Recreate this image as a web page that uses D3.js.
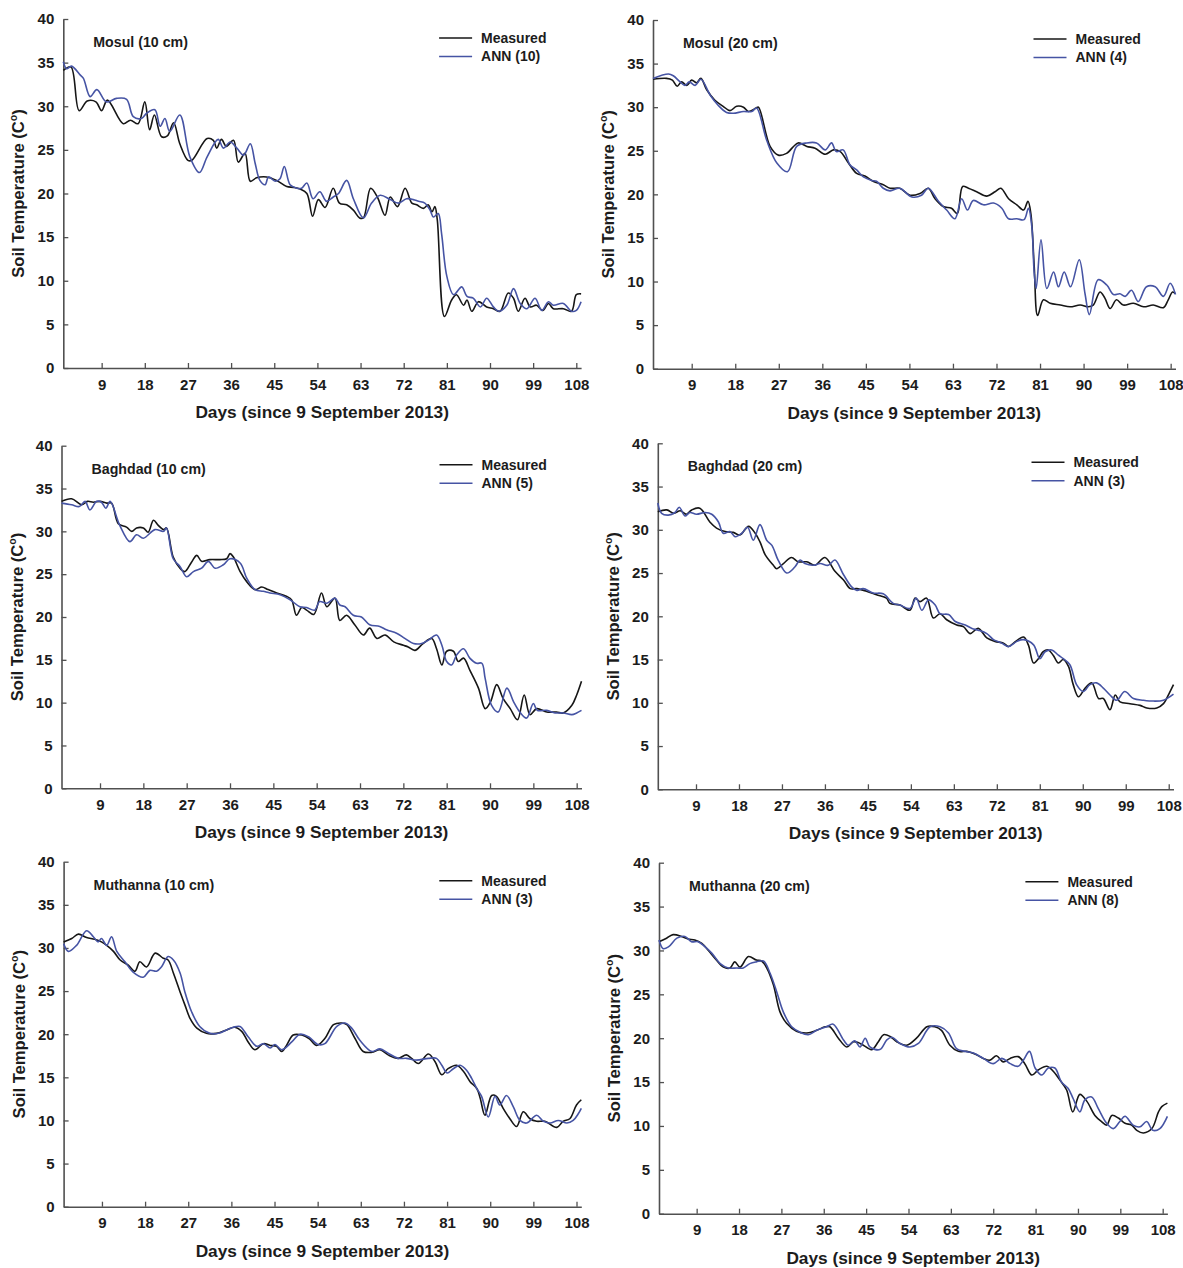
<!DOCTYPE html>
<html>
<head>
<meta charset="utf-8">
<script src="https://cdn.jsdelivr.net/npm/d3@7"></script>
<style>
  html, body { margin: 0; padding: 0; background: #fff; }
  svg text { font-family: "Liberation Sans", Arial, sans-serif; font-weight: bold; }
</style>
</head>
<body>
<svg id="chart" width="1183" height="1268"></svg>
<script>
// ---------------- DATA ----------------
const xTicks = [9, 18, 27, 36, 45, 54, 63, 72, 81, 90, 99, 108];
const yTicks = [0, 5, 10, 15, 20, 25, 30, 35, 40];
const panelTitles = ["Mosul (10 cm)", "Mosul (20 cm)", "Baghdad (10 cm)", "Baghdad (20 cm)", "Muthanna (10 cm)", "Muthanna (20 cm)"];
const annLabels = ["ANN (10)", "ANN (4)", "ANN (5)", "ANN (3)", "ANN (3)", "ANN (8)"];
const measuredLabel = "Measured";
const xTitle = "Days (since 9 September 2013)";

// [day, soil temperature °C]
const mosul10Measured = [[1,34.1],[2.6,34.5],[4.3,29.5],[6,30.6],[7.8,30.5],[9,29.5],[10.2,30.7],[13.5,28],[15,28.4],[16.6,28],[18,30.5],[19,27.3],[20,29],[21.5,26.5],[22.7,26.6],[24,28.1],[25.3,25.7],[27,23.8],[27.8,23.8],[31,26.3],[32.3,26.1],[33,25.2],[34,26.2],[35,25.4],[36.5,26.1],[37.5,23.6],[38.9,24.6],[40,21.4],[41.3,21.8],[43.4,21.9],[45.5,21.5],[47.6,20.8],[49,20.7],[50.4,20.5],[51.8,20],[53,17.4],[54.2,19.3],[55.6,18.4],[57.3,20.6],[58.6,18.9],[60.1,18.7],[61.5,18.1],[62.8,17.2],[63.6,17.2],[65.1,20.6],[66.5,19.6],[68.1,17.5],[69.2,19.6],[70.7,18.5],[72.3,20.6],[73.7,18.9],[74.7,18.7],[76.1,18.3],[77.1,18.7],[77.9,17.9],[78.5,18.5],[79,17],[80.5,5.9],[82,7.8],[83,8.4],[84.5,7.2],[85.2,7.8],[86.2,6.5],[87.6,7.6],[89.3,7],[90.7,6.8],[92.1,6.5],[93.8,8.6],[94.9,8],[95.9,6.5],[97.3,8],[98.4,7],[99.7,7.2],[101,6.6],[102.2,7.4],[103.2,6.8],[105.3,6.8],[107,6.5],[108,8.4],[109,8.5]];
const mosul10Ann = [[1,35.1],[1.7,34.3],[2.7,34.6],[4.5,33.6],[5.2,33.2],[6.6,31.1],[8,31.9],[10,30.5],[12.1,30.9],[14.2,30.8],[15.6,28.8],[17.3,28.6],[18.4,29.2],[20.1,29.6],[21.2,27.7],[22.2,28.6],[23.2,27.1],[25.3,29],[27.4,24.2],[29.4,22.4],[31,24.2],[33.3,26.2],[34.4,25.2],[35.8,25.9],[37.2,25.2],[38.6,24.4],[40,25.7],[41,23.5],[42,21.5],[43.1,21],[43.8,21.9],[45.2,21.4],[46.2,21.7],[47.1,23.1],[48.3,21],[49.7,20.6],[50.7,20.6],[51.8,21.2],[53.1,19.4],[54.5,20.2],[55.9,19.1],[57.3,19.6],[58.4,20],[60.1,21.5],[61.5,19.4],[63.6,17.2],[65.3,18.9],[67.1,19.8],[69.2,19.3],[70.9,18.9],[72.6,19.4],[74,19.3],[75.1,19.1],[76.4,18.9],[77.5,18.1],[78.2,17.3],[79.2,17.7],[79.9,15.4],[81,10.5],[82.4,8.4],[84.1,9.3],[85.2,8.2],[86.5,8],[88,7],[89.3,8],[90.7,7],[91.8,6.5],[93.5,7.2],[94.9,9.1],[96.3,7.4],[97.7,6.8],[99.4,8],[100.8,6.6],[102.2,7.6],[103.2,7.2],[105.3,7.4],[107,6.5],[108,6.6],[109,7.6]];
const mosul20Measured = [[1,33.2],[3.8,33.3],[5,33.1],[6,32.4],[6.9,32.9],[8,32.5],[9,33.1],[10,32.8],[10.9,33.3],[12.1,32],[13.8,30.8],[15.5,30.1],[16.9,29.6],[18.3,30.1],[19.7,30],[20.7,29.5],[22.3,29.9],[22.8,30],[25.2,25.5],[26.9,24.5],[28.6,24.7],[31,25.9],[32.8,25.5],[34.5,25.3],[36.6,24.6],[38.3,25.1],[39.7,24.9],[41.4,23.6],[43.1,22.4],[44.8,22.1],[46.5,21.5],[48.6,21.1],[50,20.7],[52,20.7],[54.1,19.9],[56.2,20.1],[57.9,20.7],[59.3,19.5],[61,18.6],[62.7,18.4],[63.9,17.8],[65,20.9],[66.2,20.7],[67.9,20.3],[70,19.8],[71.7,20.3],[72.9,20.7],[74.5,19.5],[76.2,18.8],[77.6,18.2],[78.5,19.2],[79.1,17.8],[79.8,11.7],[80.5,6.1],[81.7,7.9],[83.1,7.5],[85.2,7.3],[87.2,7.1],[89.3,7.3],[91,7.1],[92,7.3],[93.4,8.8],[94.4,8.1],[95.5,6.9],[96.8,7.9],[98.2,7.3],[100.3,7.5],[102.4,7.1],[104.4,7.3],[106.5,7],[107.5,7.9],[108.4,8.8],[109,8.6]];
const mosul20Ann = [[1,33.3],[4.2,33.8],[5.2,33.6],[6.6,32.9],[7.6,32.5],[8.5,32.9],[9.7,32.5],[10.9,33.2],[12.8,31.4],[14.5,30.2],[16.2,29.4],[17.6,29.3],[19.7,29.5],[21.4,29.5],[22.4,29.9],[24.5,26.2],[26.6,23.6],[28.8,22.6],[30.7,25.5],[32.8,25.9],[34.8,25.9],[36.6,25.1],[37.9,25.9],[38.9,24.9],[40.3,25.1],[41.7,23.4],[43.1,22.8],[44.5,22],[46.2,21.6],[47.2,21.5],[48.6,20.7],[50,20.4],[52,20.7],[54.5,19.7],[56.5,19.9],[57.9,20.7],[60,19.2],[61.7,18.2],[63.4,17.2],[64.8,19.5],[66,18.2],[67.2,19.3],[69.3,18.8],[71.4,19],[73.1,18.4],[74.5,17.2],[76.2,17.2],[77.7,17.1],[78.6,18.4],[79.3,16.3],[79.8,10.9],[80.2,9.2],[81.2,14.8],[82.4,9.2],[83.8,11.1],[84.8,9.4],[86,11.1],[87.3,9.4],[89.1,12.5],[90.3,8.6],[91.2,6.2],[93,10.2],[94.8,9.6],[96.2,8.5],[97.5,8.6],[98.6,8.3],[99.9,9],[101.3,7.7],[103,9.4],[104.8,9.4],[106.5,8.3],[107.9,9.8],[109,8.5]];
const baghdad10Measured = [[1,33.5],[3.1,33.8],[5.2,33.1],[6.4,33.5],[7.6,33.4],[9,33.5],[10.4,33.3],[11.4,33.3],[12.8,30.9],[14.5,30.5],[15.6,30],[16.6,30.4],[18,30.4],[19,29.9],[20.1,31.3],[21.1,30.7],[22.2,30.2],[22.8,30.4],[24.2,27],[25.6,25.7],[26.6,25.3],[28,26.4],[29.1,27.2],[30.1,26.5],[31.8,26.7],[33.9,26.7],[35.3,26.8],[36,27.4],[36.7,27],[38.1,25.3],[39.5,24.1],[41.2,23.2],[42.6,23.5],[43.9,23.2],[45.7,22.8],[47.8,22.4],[48.8,22],[49.8,20.2],[50.9,21.1],[51.9,20.8],[53.4,20.3],[55,22.8],[56.1,21.2],[57.8,22.2],[58.8,19.6],[60.2,20.2],[61.9,19.1],[63.7,17.9],[65,18.7],[66.5,17.5],[68.2,17.9],[70,17.1],[72,16.7],[73,16.5],[74.4,16.1],[76.1,16.9],[77.9,17.5],[78.9,16.3],[80,14.4],[81,16],[82.4,16],[83.4,14.8],[84.5,15.2],[85.8,13.8],[87.6,11.7],[89,9.3],[90.1,10.1],[91.4,12.1],[92.7,10.5],[94.2,9.3],[95.7,8],[97.1,10.9],[98.3,8.6],[99.7,9.3],[101.8,8.9],[103.8,8.9],[105.2,8.8],[107,9.7],[108,10.9],[109,12.5]];
const baghdad10Ann = [[1,33.3],[3.1,33.1],[4.7,32.9],[5.9,33.5],[6.9,32.5],[8.3,33.5],[9.3,33.4],[10.2,32.7],[11.1,33.5],[13.1,30.7],[15.2,28.8],[16.6,29.6],[18,29.2],[20.4,30.2],[22.2,30],[22.8,30.4],[24.2,26.8],[25.6,25.9],[27,24.7],[28.4,25.3],[30.1,25.7],[31.5,26.5],[32.9,25.7],[34.6,26.1],[36,26.8],[38.1,26.3],[39.5,24.5],[41.2,23.2],[42.9,23],[44.3,22.8],[46.4,22.6],[48.5,22],[50.5,21.2],[51.9,21.1],[53.6,20.8],[54.6,21.8],[56.1,21.6],[57.8,22.2],[58.8,21.4],[59.9,21.2],[61.6,20.2],[63.3,20],[65,19.1],[67.1,18.9],[68.5,18.5],[70.6,18.1],[72.3,17.5],[74.1,16.9],[75.8,16.9],[77.2,17.3],[78.9,17.9],[80,16.7],[81,14.8],[82,14.4],[83.1,15.6],[84.5,16.3],[85.8,15.2],[87.2,14.6],[88.3,14.6],[89,12.8],[90.3,9.7],[91.7,8.9],[93.5,11.7],[94.9,10.1],[96.2,8.9],[97.6,8.2],[99,9.9],[99.8,9.1],[101.8,9.1],[103.5,8.8],[105.2,8.8],[107,8.6],[108,8.8],[109,9.1]];
const baghdad20Measured = [[1,32.1],[2.9,32.3],[4.3,31.9],[5.7,32.2],[7,31.8],[8.1,32.3],[9.8,32.5],[11.9,30.9],[13.3,30.2],[15.1,29.8],[16.8,29.7],[18.2,29.4],[20,30.4],[21.4,29.6],[22.4,28.6],[23.5,27.1],[25.2,25.9],[25.9,25.5],[27.3,26.1],[29,26.8],[30.4,26.3],[32.2,26.3],[33.9,25.9],[36,26.8],[38.1,25.2],[39.9,24.2],[41.3,23.2],[42.7,23.2],[44.7,22.9],[46.8,22.5],[48.9,22.1],[49.6,21.5],[51.7,21.3],[53.8,20.7],[54.9,22.1],[55.9,21.7],[57.3,22.1],[58.7,19.8],[60.1,20.3],[61.5,19.6],[63.6,19],[65,18.8],[66.4,18],[68.1,18.6],[69.9,17.5],[71.6,17.1],[73.4,16.9],[74.4,16.5],[75.5,16.9],[77.6,17.6],[78.6,16.7],[79.7,14.6],[80.7,15.1],[81.7,15.9],[82.8,16.1],[83.8,15.5],[84.9,14.6],[85.9,15],[87,14.2],[88,12.1],[89.1,10.7],[90.5,11.7],[91.9,12.3],[93.3,10.5],[94.3,10.5],[95.7,9.2],[96.8,10.9],[97.8,10.1],[99.9,9.9],[102,9.7],[103.4,9.4],[105.5,9.4],[106.9,9.9],[108.1,11.1],[109,12.1]];
const baghdad20Ann = [[1,33.1],[1.8,31.9],[3.2,31.7],[4.6,32],[5.5,32.6],[6.7,31.6],[7.7,32],[9.1,31.8],[10.9,32],[12.3,31.8],[13.7,30.9],[14.7,29.6],[16.1,29.8],[17.2,29.2],[18.6,29.6],[19.8,30.3],[21,28.8],[22.4,30.6],[23.8,28.8],[24.9,28.2],[26.2,26.5],[28,25],[29.7,25.7],[30.8,26.5],[31.8,26.1],[33.6,25.9],[35,26.1],[36.7,25.9],[38.1,26.5],[39.9,24.8],[41.6,23.4],[42.7,23],[44,23.2],[46.1,22.7],[48.2,22.6],[50.3,21.5],[51.7,21.3],[53.8,20.9],[55.1,22.1],[56.3,20.7],[57.7,21.9],[59.1,21.3],[60.1,20.3],[61.9,20.2],[63.3,19.4],[65.4,19],[66.8,18.6],[68.1,18.4],[69.9,18],[71.3,17.3],[73,16.9],[74.4,16.5],[76.2,17.1],[77.6,17.3],[79.7,16.7],[81,15.1],[82.1,15.9],[83.5,16.1],[84.9,15.5],[85.9,15.1],[87.3,14.4],[88.7,12.1],[90.1,11.3],[91.5,12.1],[92.9,12.3],[94.3,11.7],[95.7,10.9],[97.1,10.3],[98.8,11.3],[100.6,10.5],[102.7,10.3],[104.8,10.2],[106.9,10.3],[109,11]];
const muthanna10Measured = [[1,30.7],[2.7,31.1],[4.1,31.6],[5.8,31.2],[7.5,31],[8.9,30.7],[10,30.3],[11.4,29.6],[12.8,28.6],[14.5,28],[15.9,27.3],[16.9,28.4],[18.3,27.8],[20.1,29.4],[21.8,28.8],[22.8,28.6],[23.9,27.1],[25.3,24.9],[26.3,23.4],[27.4,21.8],[28.8,20.7],[30.8,20.1],[32.9,20.1],[35,20.5],[36.7,20.8],[38.2,20.3],[39.5,19.1],[40.9,18.2],[42.7,18.9],[44.1,18.7],[45.4,18.6],[46.5,18],[47.5,18.7],[48.9,19.9],[50.7,19.9],[52.2,19.5],[53.8,18.7],[55.5,19.5],[57.3,21.1],[59,21.3],[60.1,21.1],[61.8,19.5],[63.5,18],[65.3,17.9],[67,18.2],[68.7,17.6],[70.8,17.2],[72.5,17.6],[73.6,17.2],[75,16.6],[77.1,17.7],[78.5,16.8],[79.9,15.3],[81.2,16],[83,16.4],[84.4,15.7],[85.8,14.5],[87.2,13.7],[87.9,12.6],[88.9,10.6],[90.3,12.9],[91.3,12.8],[92.7,11.4],[94.1,10.2],[95.5,9.3],[96.9,11],[98.3,10.2],[99.7,9.9],[101.4,9.9],[103.9,9.2],[105.2,9.9],[106.6,10.2],[108,11.8],[109,12.4]];
const muthanna10Ann = [[1,30.5],[2,29.6],[3.7,30.3],[5.8,32],[7.2,31.3],[8.2,30.7],[8.9,31.1],[10,30.3],[11,31.3],[12.1,29.6],[13.8,28.4],[15.5,27.2],[17.6,26.6],[19,27.4],[20.4,27.3],[21.4,27.8],[22.8,29],[23.9,28.6],[25.3,27.1],[26.3,24.9],[27.7,22.6],[29.4,20.9],[31.5,20.1],[33.3,20.1],[35,20.5],[36.4,20.8],[37.8,20.9],[39.5,19.7],[41.3,18.6],[42.7,18.9],[44.1,18.4],[45.1,18.8],[46.5,18.2],[48.6,19.1],[50.3,20],[52.1,19.7],[54.1,18.8],[55.5,18.9],[58,20.9],[59.7,21.3],[61.1,20.7],[62.8,19.3],[65.3,18],[67,18.3],[68.7,17.8],[70.8,17.2],[72.5,17.2],[74.6,17],[77.1,17.2],[78.8,17.2],[79.9,16.4],[81,15.5],[82.3,16],[83.7,16.4],[85.1,15.8],[86.1,14.9],[87.2,13.7],[88.2,12.8],[89.6,10.4],[91,12.8],[92,11.8],[93.4,12.9],[94.8,11.6],[96.2,10],[97.6,9.7],[99.7,10.6],[101.1,9.9],[102.5,9.7],[104.2,10],[106,9.7],[107.3,10],[108.4,10.8],[109,11.4]];
const muthanna20Measured = [[1,31],[2.6,31.4],[4,31.8],[5.8,31.6],[7.2,31.3],[8.6,31.2],[10.1,30.8],[11.5,30],[12.9,29.1],[14.7,28.1],[16.1,28],[17.1,28.7],[18.2,28.1],[20,29.3],[21.7,28.9],[22.8,28.8],[23.9,28],[25.3,26.1],[26.7,23],[28.1,21.7],[30.2,20.8],[32.4,20.6],[34.5,20.9],[36.3,21.3],[37.3,21.3],[39.1,20],[40.9,19],[42.3,19.6],[43.3,19.5],[44.4,19.2],[46.2,18.7],[47.6,19.6],[48.7,20.4],[50.1,20.2],[51.5,19.6],[53.6,19.2],[55.7,20],[57.9,21.3],[59.6,21.3],[61,20.9],[62.8,19.2],[64.6,18.5],[66.4,18.5],[68.1,18.2],[69.9,17.7],[71.3,17.5],[72.7,18],[74.1,17.3],[75.6,17.7],[77.3,17.9],[78.7,17.1],[80.2,15.8],[81.6,16.4],[83.4,16.8],[84.8,16.2],[86.2,15.2],[87.6,14.1],[88.9,11.6],[90.4,13.6],[91.9,12.8],[93.6,11.2],[95,10.5],[96.1,10.1],[97.2,11.2],[98.6,10.9],[100,10.3],[101.4,10.1],[102.5,9.5],[103.9,9.2],[105.7,9.7],[107.1,11.6],[107.8,12.2],[109,12.6]];
const muthanna20Ann = [[1,31.2],[1.9,30.2],[3,30.4],[4.8,31.4],[6.5,31.6],[7.9,31],[9.3,31],[10.8,30.4],[12.2,29.7],[14,28.5],[15.7,28],[17.5,28],[18.9,28],[20.3,28.5],[21.7,28.7],[23.2,28.8],[24.6,27.4],[26,25.3],[27.4,23],[29.2,21.3],[30.9,20.7],[32.7,20.4],[34.5,20.9],[36.6,21.3],[38,21.6],[40.2,19.8],[41.2,19.2],[42.6,19.7],[43.7,19],[44.8,20],[45.8,19],[47.9,18.7],[49.4,19.8],[50.5,20.1],[52.2,19.4],[54.3,19],[56.1,19.4],[58.6,21.3],[60.7,21.3],[62.5,20.6],[64.2,18.8],[66,18.5],[67.8,18.3],[69.9,17.7],[72,17.1],[73.8,17.7],[75.6,17.1],[77.3,16.8],[78.4,17.5],[79.7,18.5],[80.9,16.6],[82.3,15.8],[83.7,16.6],[85.1,16.6],[86.5,15],[87.9,14.3],[89,13.1],[90.4,11.6],[91.5,13],[92.9,13.3],[94.3,12],[96.1,10.3],[97.5,9.7],[98.9,10.5],[100,11.1],[101.7,10.1],[103.2,9.9],[104.6,10.5],[105.9,9.5],[107.4,9.7],[109,11.1]];

const measuredSeries = [mosul10Measured, mosul20Measured, baghdad10Measured, baghdad20Measured, muthanna10Measured, muthanna20Measured];
const annSeries = [mosul10Ann, mosul20Ann, baghdad10Ann, baghdad20Ann, muthanna10Ann, muthanna20Ann];

// ---------------- LAYOUT ----------------
const layout = [
  { x0: 63.3, x1: 581.1, yTop: 19.0, yBot: 368.0 },
  { x0: 653.0, x1: 1175.5, yTop: 20.0, yBot: 368.7 },
  { x0: 61.5, x1: 581.5, yTop: 445.7, yBot: 788.3 },
  { x0: 657.8, x1: 1173.5, yTop: 443.3, yBot: 789.3 },
  { x0: 63.6, x1: 581.3, yTop: 861.7, yBot: 1206.7 },
  { x0: 659.0, x1: 1167.4, yTop: 862.7, yBot: 1213.7 }
];
const colorMeasured = "#161616";
const colorAnn = "#4654a4";
const axisColor = "#505050";
const textColor = "#1c1c1c";

const svg = d3.select("#chart");
svg.append("rect").attr("width", 1183).attr("height", 1268).attr("fill", "#fff");

layout.forEach((L, i) => {
  const x = d3.scaleLinear().domain([1, 109]).range([L.x0, L.x1]);
  const y = d3.scaleLinear().domain([0, 40]).range([L.yBot, L.yTop]);
  const g = svg.append("g");

  // X axis
  const xa = g.append("g").attr("transform", `translate(0,${L.yBot})`)
    .call(d3.axisBottom(x).tickValues(xTicks).tickSizeInner(-5).tickSizeOuter(0).tickPadding(11));
  // Y axis
  const ya = g.append("g").attr("transform", `translate(${L.x0},0)`)
    .call(d3.axisLeft(y).tickValues(yTicks).tickSizeInner(-5).tickSizeOuter(0).tickPadding(9));
  [xa, ya].forEach(a => {
    a.select(".domain").attr("stroke", axisColor).attr("stroke-width", 1.6);
    a.selectAll(".tick line").attr("stroke", axisColor).attr("stroke-width", 1.3);
    a.selectAll(".tick text").attr("fill", textColor).attr("font-size", 15)
      .attr("font-family", "Liberation Sans, Arial, sans-serif").attr("font-weight", "bold");
  });

  // Axis titles
  g.append("text")
    .attr("x", (L.x0 + L.x1) / 2).attr("y", L.yBot + 50)
    .attr("text-anchor", "middle").attr("font-size", 17.3).attr("fill", textColor)
    .text(xTitle);
  const yt = g.append("text")
    .attr("transform", `translate(${L.x0 - 39},${(L.yTop + L.yBot) / 2}) rotate(-90)`)
    .attr("text-anchor", "middle").attr("font-size", 16.6).attr("fill", textColor);
  yt.append("tspan").text("Soil Temperature (C");
  yt.append("tspan").attr("font-size", 10.5).attr("dy", -7).text("o");
  yt.append("tspan").attr("dy", 7).text(")");

  // Panel title
  g.append("text").attr("x", L.x0 + 30).attr("y", L.yTop + 23).attr("dy", "0.35em")
    .attr("font-size", 14.2).attr("fill", textColor).text(panelTitles[i]);

  // Lines
  const line = d3.line().x(d => x(d[0])).y(d => y(d[1])).curve(d3.curveCatmullRom.alpha(0.5));
  g.append("path").datum(measuredSeries[i]).attr("d", line)
    .attr("fill", "none").attr("stroke", colorMeasured).attr("stroke-width", 1.6);
  g.append("path").datum(annSeries[i]).attr("d", line)
    .attr("fill", "none").attr("stroke", colorAnn).attr("stroke-width", 1.6);

  // Legend
  const legend = [[measuredLabel, colorMeasured], [annLabels[i], colorAnn]];
  legend.forEach((it, k) => {
    const ly = L.yTop + 19 + k * 18.5;
    g.append("line").attr("x1", L.x1 - 142).attr("x2", L.x1 - 109)
      .attr("y1", ly).attr("y2", ly).attr("stroke", it[1]).attr("stroke-width", 1.6);
    g.append("text").attr("x", L.x1 - 100).attr("y", ly).attr("dy", "0.35em")
      .attr("font-size", 14).attr("fill", textColor).text(it[0]);
  });
});
</script>
</body>
</html>
